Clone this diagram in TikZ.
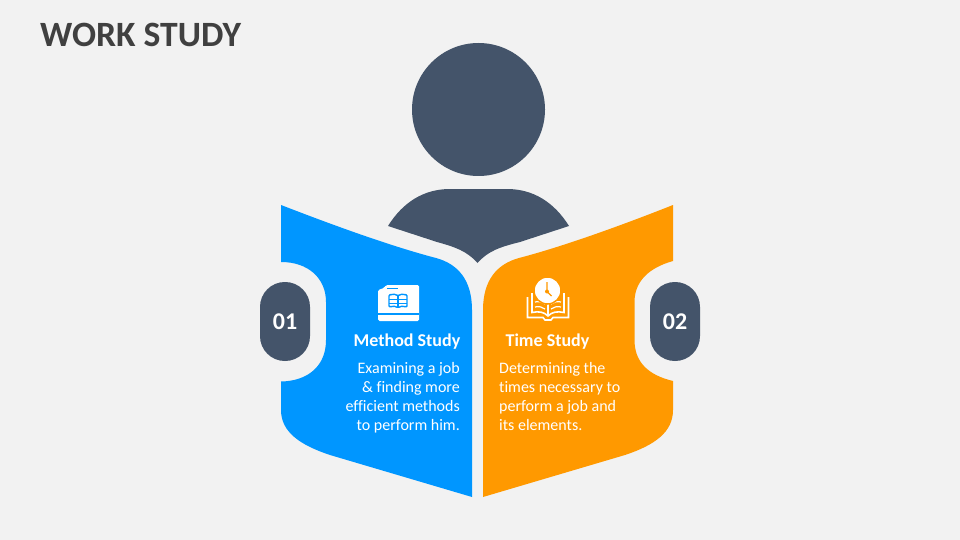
\documentclass[tikz,border=0pt]{standalone}
\usepackage{fontspec}
\setmainfont[Ligatures=NoCommon]{Carlito}
\usetikzlibrary{positioning}
\definecolor{bgcol}{HTML}{F2F2F2}
\definecolor{slate}{HTML}{44546A}
\definecolor{bluepage}{HTML}{0096FF}
\definecolor{orangepage}{HTML}{FF9900}
\definecolor{titlecol}{HTML}{404040}
\tikzstyle{pill}=[fill=slate, text=white, rounded corners=24.9pt, minimum width=50pt, minimum height=79pt, inner sep=0pt, font=\bfseries\fontsize{24}{24}\selectfont]
\tikzstyle{heading}=[text=white, inner sep=0pt, font=\bfseries\fontsize{18}{18}\selectfont]
\tikzstyle{body}=[text=white, inner sep=0pt, font=\fontsize{16}{19}\selectfont]
\tikzstyle{iconline}=[white, line width=1.6pt]
\begin{document}
\begin{tikzpicture}[x=1pt,y=-1pt]
        \useasboundingbox[fill=bgcol] (0,0) rectangle (960,540);
        \node [anchor=west, inner sep=0pt, text=titlecol, font=\bfseries\fontsize{35.6}{36}\selectfont] (title) at (40,34.500) {WORK STUDY};

        % reader
        \node [circle, fill=slate, minimum size=133pt, inner sep=0pt] (head) at (478.5,109.5) {};
        \fill[slate] (388,226) .. controls (403,202) and (424,189) .. (450,189) -- (507,189)
            .. controls (533,189) and (554,202) .. (569,226) -- (520,242)
            .. controls (500,247) and (488,251) .. (477.500,263)
            .. controls (467,251) and (455,247) .. (437,242) -- cycle;

        % open book
        \fill[bluepage] (281,205) .. controls (330,224) and (390,246) .. (436,258)
            .. controls (458,264) and (472,280) .. (472,310)
            -- (472,497) -- (330,455) .. controls (300,445) and (281,432) .. (281,410)
            -- (281,381.500) .. controls (308,381) and (326,366) .. (326,340) -- (326,302)
            .. controls (326,278) and (308,262) .. (281,262) -- cycle;
        \fill[orangepage] (673,205) .. controls (625,224) and (565,246) .. (519,258)
            .. controls (497,264) and (483,280) .. (483,310)
            -- (483,497) -- (625,455) .. controls (655,445) and (673,432) .. (673,410)
            -- (673,381) .. controls (648,375) and (634.500,362) .. (634.500,340) -- (634.500,302)
            .. controls (634.500,282) and (648,268) .. (673,261) -- cycle;

        \node [pill] (one) at (285,321.500) {01};
        \node [pill] (two) at (675,321.500) {02};

        \node [heading] (method) at (407,342) {Method Study};
        \node [body, align=right, anchor=north east] (methodtext) at (460,362) {Examining a job\\\&~finding more\\efficient methods\\to perform him.};
        \node [heading] (time) at (547.500,342) {Time Study};
        \node [body, align=left, anchor=north west] (timetext) at (499,362) {Determining the\\times necessary to\\perform a job and\\its elements.};

        % folder icon
        \fill[white, rounded corners=1.5pt] (378,321) -- (378,290) -- (384,288) -- (386,285) -- (419,285) -- (419,321) -- cycle;
        \draw[bluepage, line width=1pt] (387,288) -- (398,288);
        \draw[bluepage, line width=1.2pt] (378,314) -- (419,314);
        \draw[bluepage, line width=1.4pt, rounded corners=1pt] (389,295) .. controls (393,294) and (396,294) .. (398,296) .. controls (400,294) and (403,294) .. (407,295) -- (407,307) .. controls (403,306) and (400,306) .. (398,308) .. controls (396,306) and (393,306) .. (389,307) -- cycle;
        \draw[bluepage, line width=1.1pt] (398,296) -- (398,308) (389,299.500) -- (407,299.500) (389,303.500) -- (407,303.500);

        % clock and book icon
        \draw[iconline] (527.500,297) -- (527.500,317.500) -- (543,317.500) -- (545,320) -- (551,320) -- (553,317.500) -- (568.500,317.500) -- (568.500,297);
        \draw[iconline] (532,293) -- (532,312.500) .. controls (539,311) and (544,312) .. (548,316) .. controls (552,312) and (557,311) .. (564,312.500) -- (564,293);
        \draw[iconline] (548,304) -- (548,316);
        \draw[iconline, line width=1.2pt] (535,302) .. controls (539,301) and (542,302) .. (545,304) (535,307) .. controls (539,306) and (542,307) .. (545,309) (561,302) .. controls (557,301) and (554,302) .. (551,304) (561,307) .. controls (557,306) and (554,307) .. (551,309);
        \node [circle, fill=white, draw=orangepage, line width=1.5pt, minimum size=27pt, inner sep=0pt] (clock) at (547.500,290.500) {};
        \draw[orangepage, line width=1.4pt] (547,282) -- (547,291.500) -- (551.500,296);
        \fill[orangepage] (547,291.500) circle (2pt);
\end{tikzpicture}
\end{document}
